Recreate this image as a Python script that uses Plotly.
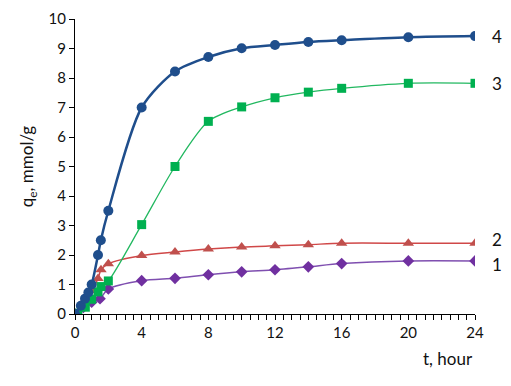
import plotly.graph_objects as go

# Series 4 (blue circles)
t4 = [0, 0.35, 0.6, 0.8, 1.0, 1.38, 1.55, 2, 4, 6, 8, 10, 12, 14, 16, 20, 24]
q4 = [0, 0.28, 0.52, 0.73, 1.0, 2.0, 2.5, 3.5, 7.0, 8.22, 8.71, 9.01, 9.12, 9.22, 9.28, 9.38, 9.42]
# Series 3 (green squares)
t3 = [0, 0.17, 0.62, 1.0, 1.38, 1.56, 2, 4, 6, 8, 10, 12, 14, 16, 20, 24]
q3 = [0, 0.03, 0.23, 0.5, 0.75, 0.93, 1.12, 3.03, 5.0, 6.53, 7.02, 7.33, 7.52, 7.65, 7.82, 7.82]
# Series 2 (red triangles)
t2 = [0, 0.5, 1.0, 1.38, 1.56, 2, 4, 6, 8, 10, 12, 14, 16, 20, 24]
q2 = [0, 0.4, 0.8, 1.2, 1.5, 1.7, 1.98, 2.1, 2.2, 2.27, 2.31, 2.35, 2.4, 2.4, 2.4]
# Series 1 (purple diamonds)
t1 = [0, 0.5, 1.0, 1.5, 2, 4, 6, 8, 10, 12, 14, 16, 20, 24]
q1 = [0, 0.22, 0.4, 0.52, 0.85, 1.13, 1.21, 1.33, 1.43, 1.5, 1.6, 1.71, 1.8, 1.8]

series_labels = ["1", "2", "3", "4"]
x_ticks = [0, 4, 8, 12, 16, 20, 24]
y_ticks = list(range(0, 11))

FONT = "Lato, 'Open Sans', sans-serif"

fig = go.Figure()
fig.add_trace(go.Scatter(x=t1, y=q1, mode="lines+markers",
                         line=dict(color="#7F4FB0", width=1.5, shape="spline", smoothing=0.8),
                         marker=dict(symbol="diamond", size=9, color="#7030A0")))
fig.add_trace(go.Scatter(x=t2, y=q2, mode="lines+markers",
                         line=dict(color="#D04848", width=1.5, shape="spline", smoothing=0.8),
                         marker=dict(symbol="triangle-up", size=10, color="#C0504D")))
fig.add_trace(go.Scatter(x=t3, y=q3, mode="lines+markers",
                         line=dict(color="#22B860", width=1.3, shape="spline", smoothing=0.8),
                         marker=dict(symbol="square", size=9, color="#00B050")))
fig.add_trace(go.Scatter(x=t4, y=q4, mode="lines+markers",
                         line=dict(color="#1F4E8C", width=2.5, shape="spline", smoothing=0.8),
                         marker=dict(symbol="circle", size=10, color="#1F4E8C")))

ends = [(t1[-1], q1[-1], -4), (t2[-1], q2[-1], 4), (t3[-1], q3[-1], 0), (t4[-1], q4[-1], 0)]
for lab, (xe, ye, ys) in zip(series_labels, ends):
    fig.add_annotation(x=xe, y=ye, text=lab, showarrow=False, xshift=22, yshift=ys,
                       font=dict(family=FONT, size=17, color="#111111"))

fig.add_annotation(xref="paper", yref="paper", x=1.0, y=-0.15, xanchor="right", yanchor="middle",
                   text="t, hour", showarrow=False,
                   font=dict(family=FONT, size=17, color="#111111"))

# page body has an 8px margin, so the figure is sized/offset to compensate
fig.update_layout(
    width=503, height=378,
    margin=dict(l=67, r=36, t=11, b=72),
    plot_bgcolor="white", paper_bgcolor="white",
    showlegend=False,
    font=dict(family=FONT, size=15, color="#111111"),
)
fig.update_xaxes(range=[0, 24], tickvals=x_ticks, ticks="outside", ticklen=5, tickcolor="black",
                 showline=True, linecolor="black", linewidth=1, showgrid=False, zeroline=False,
                 automargin=False,
                 minor=dict(dtick=0.5, ticks="outside", ticklen=5, tickcolor="black", showgrid=False),
                 tickfont=dict(size=15))
fig.update_yaxes(range=[0, 10], tickvals=y_ticks, ticks="outside", ticklen=5, tickcolor="black",
                 showline=True, linecolor="black", linewidth=1, showgrid=False, zeroline=False,
                 automargin=False,
                 tickfont=dict(size=15),
                 title=dict(text="q<sub>e</sub>, mmol/g", font=dict(size=17), standoff=10))

fig.write_html("out.html")
